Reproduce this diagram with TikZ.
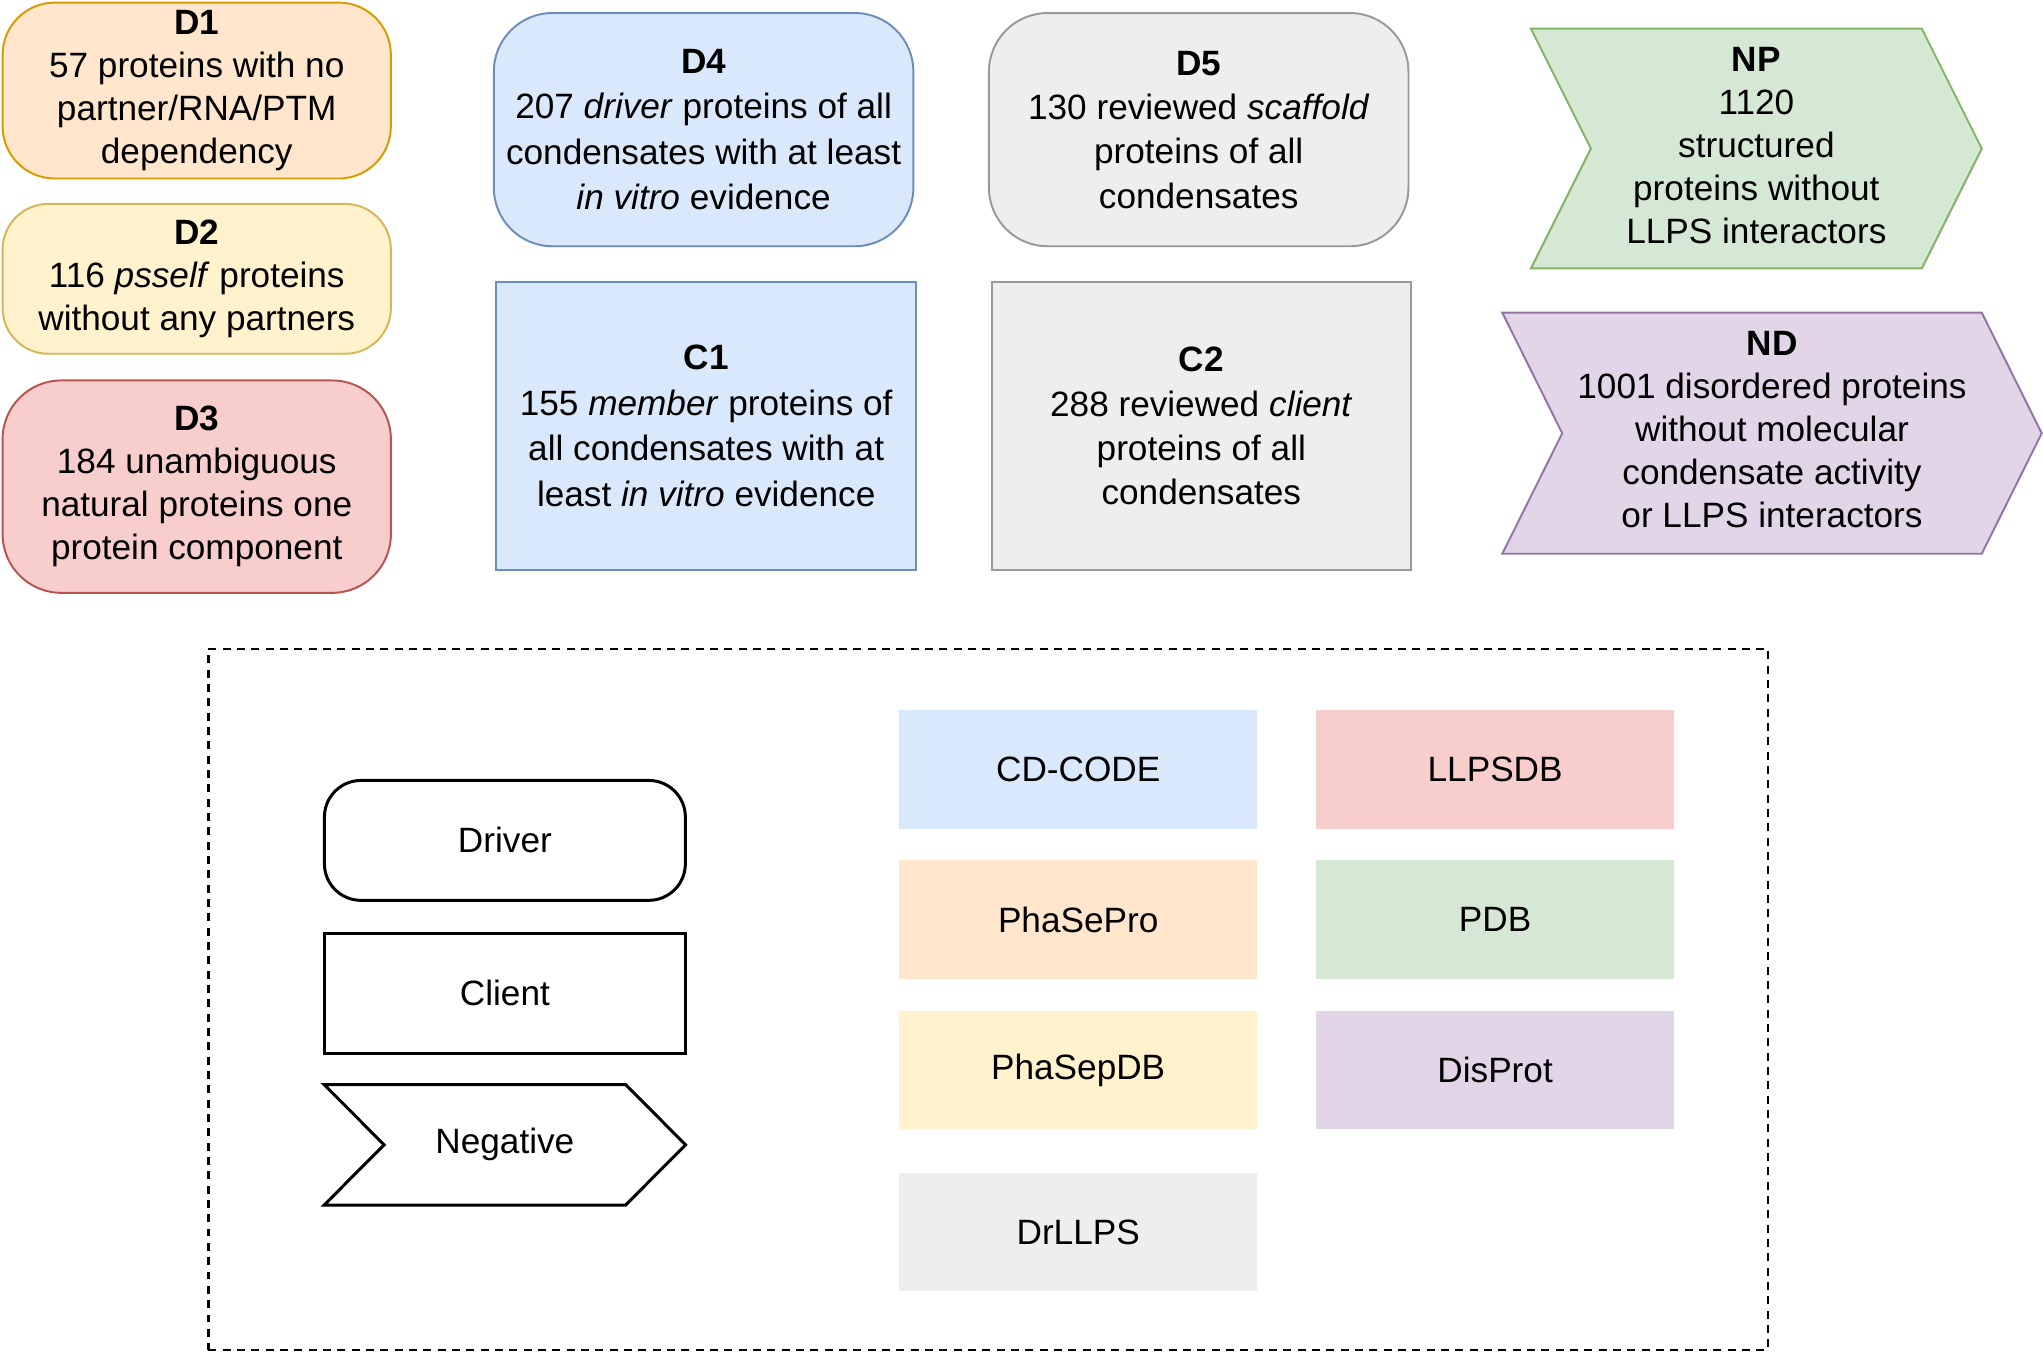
\documentclass[tikz,border=0pt]{standalone}
\usepackage{fontspec}
\setmainfont{Liberation Sans}
\usetikzlibrary{positioning,backgrounds}

\definecolor{orangefill}{HTML}{FFE6CC}
\definecolor{orangeline}{HTML}{D79B00}
\definecolor{yellowfill}{HTML}{FFF2CC}
\definecolor{yellowline}{HTML}{D6B656}
\definecolor{redfill}{HTML}{F8CECC}
\definecolor{redline}{HTML}{B85450}
\definecolor{bluefill}{HTML}{DAE8FC}
\definecolor{blueline}{HTML}{6C8EBF}
\definecolor{grayfill}{HTML}{EEEEEE}
\definecolor{grayline}{HTML}{999999}
\definecolor{greenfill}{HTML}{D5E8D4}
\definecolor{greenline}{HTML}{82B366}
\definecolor{purplefill}{HTML}{E1D5E7}
\definecolor{purpleline}{HTML}{9673A6}

\begin{document}
\begin{tikzpicture}[x=1pt, y=-1pt,
  every node/.style={font=\fontsize{27}{33}\selectfont, align=center, inner sep=0pt},
  driverbox/.style={draw, rectangle, rounded corners=40pt, line width=1.5pt},
  clientbox/.style={draw, rectangle, line width=1.5pt},
  legendbox/.style={rectangle, minimum width=275pt, minimum height=91pt},
  orangebox/.style={fill=orangefill, draw=orangeline},
  yellowbox/.style={fill=yellowfill, draw=yellowline},
  redbox/.style={fill=redfill, draw=redline},
  bluebox/.style={fill=bluefill, draw=blueline},
  graybox/.style={fill=grayfill, draw=grayline},
  greenbox/.style={fill=greenfill, draw=greenline},
  purplebox/.style={fill=purplefill, draw=purpleline}]
\useasboundingbox (0,0) rectangle (1568,1038.4);

% drivers and clients
\node (d1) [driverbox, orangebox, minimum width=298pt, minimum height=135pt] at (151,69.5) {\textbf{D1}\\57 proteins with no\\partner/RNA/PTM\\dependency};
\node (d2) [driverbox, yellowbox, rounded corners=35pt, below=18pt of d1, minimum width=298pt, minimum height=115pt] {\textbf{D2}\\116 \textit{psself} proteins\\without any partners};
\node (d3) [driverbox, redbox, rounded corners=45pt, below=19pt of d2, minimum width=298pt, minimum height=163pt] {\textbf{D3}\\184 unambiguous\\natural proteins one\\protein component};
\node (d4) [driverbox, bluebox, rounded corners=45pt, font=\fontsize{27}{35}\selectfont, minimum width=322pt, minimum height=179pt] at (540,99.5) {\textbf{D4}\\207 \textit{driver} proteins of all\\condensates with at least\\\textit{in vitro} evidence};
\node (c1) [clientbox, bluebox, font=\fontsize{27}{35}\selectfont, below=26pt of d4, xshift=2pt, minimum width=322pt, minimum height=221pt] {\textbf{C1}\\155 \textit{member} proteins of\\all condensates with at\\least \textit{in vitro} evidence};
\node (d5) [driverbox, graybox, rounded corners=45pt, font=\fontsize{27}{34}\selectfont, minimum width=322pt, minimum height=179pt] at (920,99.5) {\textbf{D5}\\130 reviewed \textit{scaffold}\\proteins of all\\condensates};
\node (c2) [clientbox, graybox, font=\fontsize{27}{34}\selectfont, below=26pt of d5, xshift=2pt, minimum width=322pt, minimum height=221pt] {\textbf{C2}\\288 reviewed \textit{client}\\proteins of all\\condensates};

% negatives
\node (np) [minimum width=346pt, minimum height=184pt] at (1348,112) {\textbf{NP}\\1120\\structured\\proteins without\\LLPS interactors};
\node (nd) [minimum width=414pt, minimum height=185pt] at (1360,330) {\textbf{ND}\\1001 disordered proteins\\without molecular\\condensate activity\\or LLPS interactors};
\begin{scope}[on background layer]
\draw[greenbox, line width=1.5pt] (1175,22) -- (1475,22) -- (1521,114) -- (1475,206) -- (1175,206) -- (1221,114) -- cycle;
\draw[purplebox, line width=1.5pt] (1153,240) -- (1521,240) -- (1567,332.5) -- (1521,425) -- (1153,425) -- (1199,332.5) -- cycle;
\end{scope}

% legend
\node (legend) [draw, line width=2pt, dash pattern=on 6pt off 5pt, minimum width=1197pt, minimum height=538pt] at (758.5,767) {};
\node (driver) [driverbox, rounded corners=28pt, line width=2.3pt, minimum width=277pt, minimum height=92pt] at (387.5,645) {Driver};
\node (client) [clientbox, line width=2.3pt, below=23pt of driver, minimum width=277pt, minimum height=92pt] {Client};
\node (negative) [below=23pt of client, minimum width=277pt, minimum height=92pt] {Negative};
\draw[line width=2.3pt] (negative.north west) -- ([xshift=-46pt]negative.north east) -- (negative.east) -- ([xshift=-46pt]negative.south east) -- (negative.south west) -- ([xshift=46pt]negative.west) -- cycle;

\node (cdcode) [legendbox, fill=bluefill] at (827.5,590.5) {CD-CODE};
\node (llpsdb) [legendbox, fill=redfill] at (1147.5,590.5) {LLPSDB};
\node (phasepro) [legendbox, fill=orangefill, below=24pt of cdcode] {PhaSePro};
\node (pdb) [legendbox, fill=greenfill, below=24pt of llpsdb] {PDB};
\node (phasepdb) [legendbox, fill=yellowfill, below=24pt of phasepro] {PhaSepDB};
\node (disprot) [legendbox, fill=purplefill, below=24pt of pdb] {DisProt};
\node (drllps) [legendbox, fill=grayfill, below=33pt of phasepdb] {DrLLPS};
\end{tikzpicture}
\end{document}
